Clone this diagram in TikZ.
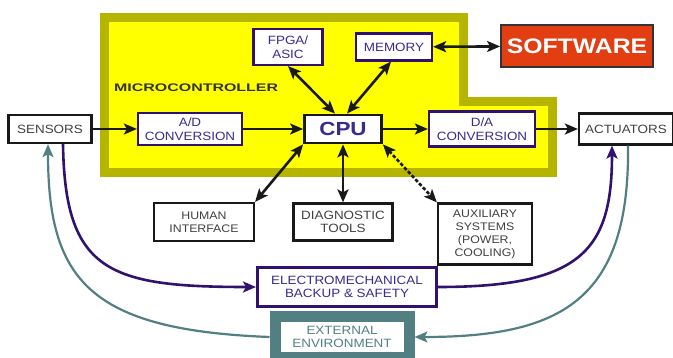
\documentclass[tikz,border=0pt]{standalone}
\usepackage{fontspec}
\setsansfont{Liberation Sans}[FakeStretch=1.12]
\newfontfamily\widefont{Liberation Sans}[FakeStretch=1.45]
\newfontfamily\cpufont{Liberation Sans}[FakeStretch=1.18]
\usepackage{tikz}
\usetikzlibrary{positioning,arrows.meta}
\usepackage{xcolor}
\definecolor{mcyellow}{RGB}{255,255,0}
\definecolor{mcolive}{RGB}{181,181,0}
\definecolor{figpurple}{RGB}{48,18,110}
\definecolor{figpurpletext}{RGB}{58,42,140}
\definecolor{figteal}{RGB}{82,128,130}
\definecolor{swred}{RGB}{226,62,18}
\tikzset{
  figbox/.style={draw=black!90, line width=2.2pt, fill=white, align=center, inner sep=0pt,
    text=black!75, font=\sffamily\fontsize{12}{13.5}\selectfont},
  figpart/.style={figbox, draw=figpurple, text=figpurpletext},
  figarrow/.style={-{Stealth[length=13pt,width=11pt,inset=3pt]}, line width=2.6pt, black!90},
  figdual/.style={{Stealth[length=13pt,width=11pt,inset=3pt]}-{Stealth[length=13pt,width=11pt,inset=3pt]}, line width=2.6pt, black!90},
  figloop/.style={-{Stealth[length=13pt,width=11pt,inset=3pt]}, line width=2.6pt},
}

\begin{document}
\begin{tikzpicture}[x=1pt, y=-1pt]
  \useasboundingbox (0,0) rectangle (673,358);
  % microcontroller area
  \draw[mcolive, line width=9pt, fill=mcyellow, line join=miter]
    (104.5,17.5) -- (463.5,17.5) -- (463.5,101.5) -- (552.5,101.5) -- (552.5,172.5) -- (104.5,172.5) -- cycle;
  \node[font=\widefont\bfseries\fontsize{11}{11}\selectfont, text=black!80, anchor=west, inner sep=0pt] (mclabel) at (114,88) {MICROCONTROLLER};

  \node[figbox, minimum width=83pt, minimum height=28pt] (sensors) at (50,129) {SENSORS};
  \node[figpart, minimum width=104pt, minimum height=32pt] (adconv) at (190,129) {A/D\\CONVERSION};
  \node[figbox, line width=2.8pt, minimum width=77pt, minimum height=28pt, text=figpurpletext,
    font=\cpufont\bfseries\fontsize{19}{19}\selectfont] (cpu) at (343,129) {CPU};
  \node[figpart, minimum width=106pt, minimum height=35pt] (daconv) at (482,129) {D/A\\CONVERSION};
  \node[figbox, minimum width=94pt, minimum height=31pt] (actuators) at (626,129) {ACTUATORS};
  \node[figpart, minimum width=69pt, minimum height=36pt] (fpga) at (288,47) {FPGA/\\ASIC};
  \node[figpart, minimum width=76pt, minimum height=27pt] (memory) at (394,47) {MEMORY};
  \node[draw=black!80, line width=1.8pt, fill=swred, text=white, minimum width=152pt, minimum height=42pt,
    font=\cpufont\bfseries\fontsize{21}{21}\selectfont] (software) at (577,46) {SOFTWARE};
  \node[figbox, minimum width=100pt, minimum height=38pt, font=\sffamily\fontsize{11}{13}\selectfont] (human) at (204,222) {HUMAN\\INTERFACE};
  \node[figbox, minimum width=99pt, minimum height=37pt] (diag) at (343,222) {DIAGNOSTIC\\TOOLS};
  \node[figbox, minimum width=94pt, minimum height=61pt, font=\sffamily\fontsize{11}{13}\selectfont] (aux) at (485,234) {AUXILIARY\\SYSTEMS\\(POWER,\\COOLING)};
  \node[figpart, line width=3pt, minimum width=179pt, minimum height=39pt] (backup) at (347,287) {ELECTROMECHANICAL\\BACKUP \& SAFETY};
  \node[figbox, draw=figteal, line width=11pt, text=figteal, minimum width=134pt, minimum height=41pt] (extenv) at (342,337) {EXTERNAL\\ENVIRONMENT};

  % signal path
  \draw[figarrow] (sensors.east) -- (sensors.east -| adconv.west);
  \draw[figarrow] (adconv) -- (cpu);
  \draw[figarrow] (cpu) -- (daconv);
  \draw[figarrow] (daconv) -- (actuators);
  % cpu links
  \draw[figdual] (fpga.south) -- ([xshift=-8pt]cpu.north);
  \draw[figdual] ([xshift=-3pt]memory.south) -- ([xshift=4pt]cpu.north);
  \draw[figdual] (memory) -- (software);
  \draw[figdual] (cpu.south west) -- (human.north east);
  \draw[figdual] (cpu) -- (diag);
  \draw[figdual, dash pattern=on 3.5pt off 2pt] (cpu.south east) -- (aux.north west);
  % backup and environment loops
  \draw[figloop, figpurple] ([xshift=13pt]sensors.south) .. controls +(2,127) and +(-148,0) .. (backup.west);
  \draw[figloop, figpurple] (backup.east) .. controls +(143,0) and +(0,105) .. ([xshift=-14pt]actuators.south);
  \draw[figloop, figteal, line width=2.2pt] ([xshift=2pt]actuators.south) .. controls +(2,156) and +(145,0) .. (extenv.east);
  \draw[figloop, figteal, line width=2.2pt] (extenv.west) .. controls +(-180,-7) and +(0,136) .. ([xshift=-2pt]sensors.south);
\end{tikzpicture}
\end{document}
